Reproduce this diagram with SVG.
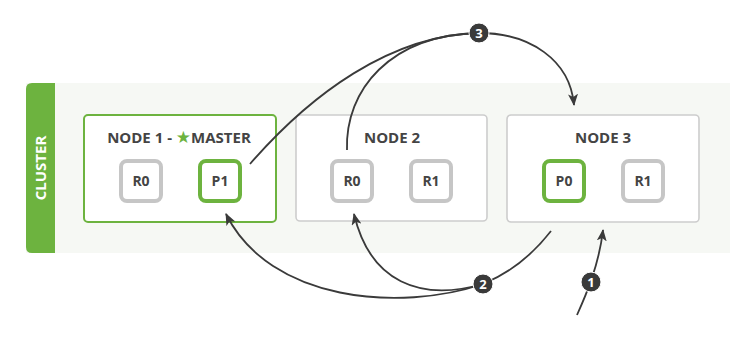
<svg xmlns="http://www.w3.org/2000/svg" width="750" height="337" viewBox="0 0 750 337">
<defs>
<style>
.band{fill:#f6f8f4}
.node{fill:#fff;stroke:#cdcdcd;stroke-width:1.6}
.master{stroke:#6db33f;stroke-width:2}
.shard{fill:#fff;stroke:#c6c6c6;stroke-width:4}
.primary{stroke:#6db33f}
.title{font-family:"Open Sans","DejaVu Sans",sans-serif;font-weight:bold;font-size:15px;fill:#444;text-anchor:middle}
.lbl{font-family:"Open Sans","DejaVu Sans",sans-serif;font-weight:bold;font-size:14px;fill:#444;text-anchor:middle}
.conn{fill:none;stroke:#3a3a3a;stroke-width:1.8}
.badge circle{fill:#3a3a3a;stroke:#fff;stroke-width:1}
.badge text{font-family:"Open Sans","DejaVu Sans",sans-serif;font-weight:bold;font-size:13px;fill:#fff;text-anchor:middle}
</style>
<marker id="ah" viewBox="0 0 12 10" refX="11" refY="5" markerWidth="12" markerHeight="10" markerUnits="userSpaceOnUse" orient="auto">
<path d="M0,0 L12,5 L0,10 L3,5 z" fill="#3a3a3a"/>
</marker>
</defs>
<g id="cluster">
<rect class="band" x="26" y="83" width="704" height="170"/>
<path d="M32,83 H55 V253 H32 Q26,253 26,247 V89 Q26,83 32,83 Z" fill="#6db33f"/>
<text transform="translate(46,168) rotate(-90)" font-family="'Open Sans','DejaVu Sans',sans-serif" font-weight="bold" font-size="15" fill="#fff" text-anchor="middle">CLUSTER</text>
</g>
<g id="node1">
<rect class="node master" x="84" y="115" width="192" height="107" rx="4"/>
<text class="title" x="179" y="143">NODE 1 - <tspan fill="#6db33f" font-size="17">★</tspan>MASTER</text>
<rect class="shard" x="121" y="161" width="40" height="40" rx="6"/>
<text class="lbl" x="141" y="186">R0</text>
<rect class="shard primary" x="200" y="161" width="40" height="40" rx="6"/>
<text class="lbl" x="220" y="186">P1</text>
</g>
<g id="node2">
<rect class="node" x="296" y="115" width="191" height="106" rx="4"/>
<text class="title" x="392" y="143">NODE 2</text>
<rect class="shard" x="332" y="161" width="40" height="40" rx="6"/>
<text class="lbl" x="352" y="186">R0</text>
<rect class="shard" x="411" y="161" width="40" height="40" rx="6"/>
<text class="lbl" x="431" y="186">R1</text>
</g>
<g id="node3">
<rect class="node" x="507" y="115" width="192" height="107" rx="4"/>
<text class="title" x="603" y="143">NODE 3</text>
<rect class="shard primary" x="544" y="161" width="40" height="40" rx="6"/>
<text class="lbl" x="564" y="186">P0</text>
<rect class="shard" x="623" y="161" width="40" height="40" rx="6"/>
<text class="lbl" x="643" y="186">R1</text>
</g>
<g id="connectors">
<path class="conn" d="M577,315 C586,295 599,265 603,230" marker-end="url(#ah)"/>
<path class="conn" d="M551,231 C530,258 505,275 483,284"/>
<path class="conn" d="M483,284 C420,302 370,282 354,214" marker-end="url(#ah)"/>
<path class="conn" d="M483,284 C400,312 270,302 226,214" marker-end="url(#ah)"/>
<path class="conn" d="M250,164 C310,95 390,35 479,33"/>
<path class="conn" d="M347,150 C345,90 390,35 479,33"/>
<path class="conn" d="M479,33 C530,33 570,60 574,105" marker-end="url(#ah)"/>
</g>
<g id="badge1" class="badge"><circle cx="591" cy="282" r="10"/><text x="591" y="287">1</text></g>
<g id="badge2" class="badge"><circle cx="483" cy="284" r="10"/><text x="483" y="289">2</text></g>
<g id="badge3" class="badge"><circle cx="479" cy="33" r="10"/><text x="479" y="38">3</text></g>
</svg>
